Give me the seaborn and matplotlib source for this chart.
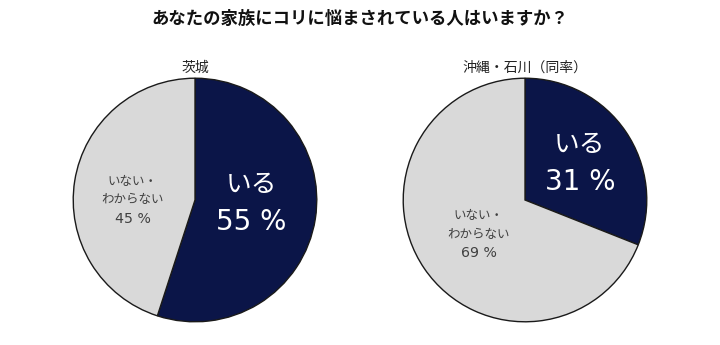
import matplotlib
matplotlib.use("Agg")
import matplotlib.pyplot as plt
import seaborn as sns

sns.set_theme(style="white")
plt.rcParams["font.family"] = ["Noto Sans CJK JP", "DejaVu Sans"]
MIXED = ["DejaVu Sans", "Noto Sans CJK JP"]

title = "あなたの家族にコリに悩まされている人はいますか？"
regions = ["茨城", "沖縄・石川（同率）"]
answers = ["いる", ["いない・", "わからない"]]
yes_pct = [55, 31]
no_pct = [45, 69]
colors = ["#0b1548", "#d9d9d9"]

# label anchor positions inside each pie (data units, radius = 1)
yes_pos = [(0.46, -0.03), (0.45, 0.30)]
no_pos = [(-0.51, 0.0), (-0.38, -0.28)]

fig = plt.figure(figsize=(7.2, 3.45), dpi=100)
fig.patch.set_facecolor("white")

W, H = 720, 345
boxes = [(72, 77, 246), (402, 77, 246)]

for i, region in enumerate(regions):
    x0, y0, size = boxes[i]
    ax = fig.add_axes([x0 / W, (H - y0 - size) / H, size / W, size / H])
    vals = [yes_pct[i], no_pct[i]]
    ax.pie(vals, colors=colors, startangle=90, counterclock=False,
           radius=1, wedgeprops=dict(edgecolor="#1a1a1a", linewidth=1.0))
    ax.set_xlim(-1.01, 1.01)
    ax.set_ylim(-1.01, 1.01)
    ax.set_aspect("equal")
    ax.axis("off")
    yx, yy = yes_pos[i]
    ax.text(yx, yy + 0.15, answers[0], ha="center", va="center",
            color="white", fontsize=18.5)
    ax.text(yx, yy - 0.15, f"{yes_pct[i]} %", ha="center", va="center",
            color="white", fontsize=20, family=MIXED)
    nx, ny = no_pos[i]
    ax.text(nx, ny + 0.15, answers[1][0], ha="center", va="center",
            color="#404040", fontsize=9)
    ax.text(nx, ny, answers[1][1], ha="center", va="center",
            color="#404040", fontsize=9)
    ax.text(nx, ny - 0.155, f"{no_pct[i]} %", ha="center", va="center",
            color="#404040", fontsize=10.2, family=MIXED)
    ax.text(0, 1.03, region, ha="center", va="bottom", fontsize=10,
            color="#222222")

fig.text(0.5, 1 - 19 / H, title, ha="center", va="center", fontsize=12.5,
         fontweight="bold", color="#111111")

fig.savefig("out.png", dpi=100, facecolor="white")
